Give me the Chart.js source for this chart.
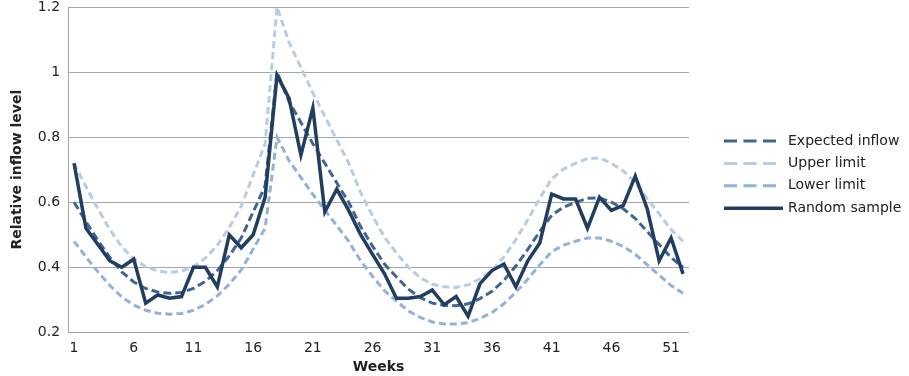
<!DOCTYPE html>
<html>
<head>
<meta charset="utf-8">
<script src="https://cdn.jsdelivr.net/npm/chart.js@4"></script>
<style>
  html, body { margin: 0; padding: 0; background: #fff; }
  #wrap { width: 909px; height: 376px; }
</style>
</head>
<body>
<div id="wrap"><canvas id="grafica"></canvas></div>
<script>
// weeks 1..52
var weeks = [1,2,3,4,5,6,7,8,9,10,11,12,13,14,15,16,17,18,19,20,21,22,23,24,25,26,
             27,28,29,30,31,32,33,34,35,36,37,38,39,40,41,42,43,44,45,46,47,48,49,50,51,52];
var weekTicks = ["1","6","11","16","21","26","31","36","41","46","51"];

var expected = [0.60,0.54,0.483,0.43,0.386,0.355,0.335,0.324,0.32,0.323,0.335,0.357,0.39,0.435,0.49,0.57,0.65,
                1.0,0.91,0.845,0.78,0.72,0.66,0.60,0.525,0.465,0.41,0.37,0.333,0.307,0.29,0.283,0.282,0.288,
                0.304,0.326,0.36,0.404,0.455,0.51,0.56,0.585,0.60,0.612,0.613,0.60,0.58,0.55,0.51,0.47,0.43,0.40];
var upper = [0.72,0.648,0.58,0.516,0.463,0.426,0.402,0.389,0.384,0.388,0.402,0.428,0.468,0.522,0.588,0.684,0.78,
             1.2,1.092,1.014,0.936,0.864,0.792,0.72,0.63,0.558,0.492,0.444,0.40,0.368,0.348,0.34,0.338,0.346,
             0.365,0.391,0.432,0.485,0.546,0.612,0.672,0.702,0.72,0.734,0.736,0.72,0.696,0.66,0.612,0.564,0.516,0.48];
var lower = [0.48,0.432,0.386,0.344,0.309,0.284,0.268,0.259,0.256,0.258,0.268,0.286,0.312,0.348,0.392,0.456,0.52,
             0.80,0.728,0.676,0.624,0.576,0.528,0.48,0.42,0.372,0.328,0.296,0.266,0.246,0.232,0.226,0.226,0.23,
             0.243,0.261,0.288,0.323,0.364,0.408,0.448,0.468,0.48,0.49,0.49,0.48,0.464,0.44,0.408,0.376,0.344,0.32];
var sample = [0.72,0.52,0.47,0.42,0.40,0.425,0.29,0.315,0.305,0.31,0.40,0.40,0.34,0.50,0.46,0.50,0.615,
              0.99,0.92,0.745,0.89,0.57,0.64,0.575,0.50,0.44,0.38,0.305,0.305,0.31,0.33,0.285,0.31,0.25,
              0.35,0.39,0.41,0.34,0.42,0.475,0.625,0.61,0.61,0.52,0.615,0.575,0.59,0.68,0.58,0.42,0.49,0.38];

var ctx = document.getElementById("grafica").getContext('2d');
var font = "'DejaVu Sans', sans-serif";

// legend drawn by hand on the right, built-in one can't leave the gap
var sideLegend = {
    id: 'sideLegend',
    afterDraw: function(chart) {
        var c = chart.ctx;
        chart.data.datasets.forEach(function(ds, i) {
            var y = 141 + i * 22.4;
            c.save();
            c.strokeStyle = ds.borderColor;
            c.lineWidth = ds.borderWidth;
            c.lineCap = 'butt';
            c.setLineDash(ds.borderDash ? [13, 6.5] : []);
            c.beginPath();
            c.moveTo(724, y);
            c.lineTo(ds.borderDash ? 776 : 783, y);
            c.stroke();
            c.setLineDash([]);
            c.fillStyle = '#222';
            c.font = '14px ' + font;
            c.textBaseline = 'middle';
            c.fillText(ds.label, 788, y);
            c.restore();
        });
    }
};

var myChart = new Chart(ctx, {
    type: 'line',
    data: {
        labels: weeks,
        datasets: [{
            label: 'Expected inflow',
            data: expected,
            borderColor: "#3d6595",
            borderWidth: 3,
            borderDash: [8, 4],
            order: 2
        }, {
            label: 'Upper limit',
            data: upper,
            borderColor: "#b8cce4",
            borderWidth: 3,
            borderDash: [7, 4],
            order: 3
        }, {
            label: 'Lower limit',
            data: lower,
            borderColor: "#93b2d8",
            borderWidth: 3,
            borderDash: [7, 4],
            order: 3
        }, {
            label: 'Random sample',
            data: sample,
            borderColor: "#213d5f",
            borderWidth: 3.5,
            order: 1
        }]
    },
    options: {
        responsive: true,
        maintainAspectRatio: false,
        animation: false,
        elements: {
            point: { radius: 0 },
            line: { tension: 0, fill: false, borderCapStyle: 'butt' }
        },
        layout: { padding: { left: 9, right: 220, top: 0, bottom: 0 } },
        plugins: {
            tooltip: { enabled: false },
            legend: { display: false }
        },
        scales: {
            x: {
                offset: true,
                grid: { display: false, drawTicks: false },
                border: { display: false },
                title: {
                    display: true,
                    text: 'Weeks',
                    color: '#222',
                    font: { family: font, size: 14, weight: 'bold' },
                    padding: { top: -6, bottom: 0 }
                },
                ticks: {
                    autoSkip: false,
                    maxRotation: 0,
                    padding: 8,
                    color: '#222',
                    font: { family: font, size: 14 },
                    callback: function(value, index) {
                        var l = String(weeks[index]);
                        return weekTicks.indexOf(l) >= 0 ? l : '';
                    }
                }
            },
            y: {
                min: 0.2,
                max: 1.2,
                grid: { color: '#a6a6a6', lineWidth: 1, drawTicks: false },
                border: { display: true, color: '#a6a6a6' },
                title: {
                    display: true,
                    text: 'Relative inflow level',
                    color: '#222',
                    font: { family: font, size: 14, weight: 'bold' },
                    padding: { top: 0, bottom: 4 }
                },
                ticks: {
                    stepSize: 0.2,
                    padding: 8,
                    color: '#222',
                    font: { family: font, size: 14 },
                    callback: function(v) { return String(Number(v.toFixed(1))); }
                },
                afterFit: function(s) { s.paddingTop = 7; s.paddingBottom = 0; }
            }
        }
    },
    plugins: [sideLegend]
});
</script>
</body>
</html>
